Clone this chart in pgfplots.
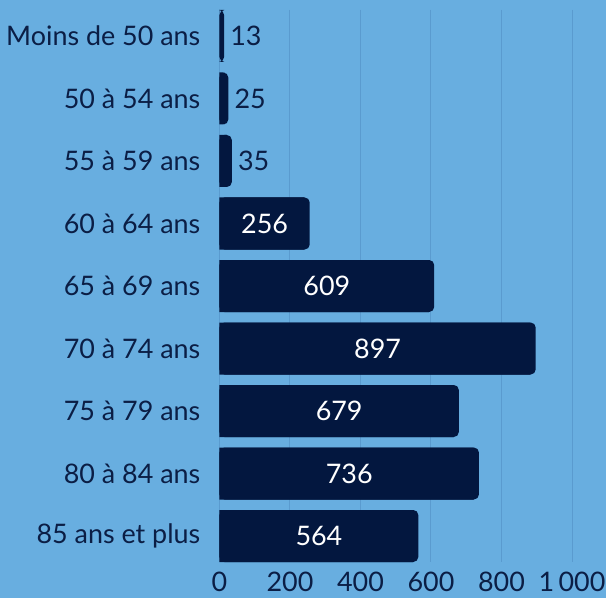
\documentclass[border=0pt]{standalone}
\usepackage{pgfplots}
\usepackage{pgfplotstable}
\pgfplotsset{compat=1.18}
\usepackage{fontspec}
\setmainfont{Lato}
\definecolor{bg}{HTML}{68AEE0}
\definecolor{navy}{HTML}{03173F}
\definecolor{gridc}{HTML}{5A9BCF}
\definecolor{txt}{HTML}{0B1E45}
\pgfplotstableread{
y v
0 13
1 25
2 35
3 256
4 609
5 897
6 679
7 736
8 564
}\agedata
\pgfplotstableread{
y v
0 13
1 25
2 35
}\smalldata
\pgfplotstableread{
y v
3 256
4 609
5 897
6 679
7 736
8 564
}\bigdata
\begin{document}
\begin{tikzpicture}
\fill[bg] (-219.5bp,-36bp) rectangle (386.5bp,562bp);
\begin{axis}[
  at={(0,0)}, anchor=south west,
  scale only axis, width=352.5bp, height=552bp,
  xmin=0, xmax=1000, ymin=-0.416, ymax=8.416, y dir=reverse,
  axis line style={draw=none},
  major tick length=0pt,
  xtick={0,200,400,600,800,1000},
  xticklabels={0,200,400,600,800,1\,000},
  ytick={0,...,8},
  yticklabels={Moins de 50 ans,50 à 54 ans,55 à 59 ans,60 à 64 ans,65 à 69 ans,70 à 74 ans,75 à 79 ans,80 à 84 ans,85 ans et plus},
  xmajorgrids, major grid style={gridc, line width=1bp},
  tick label style={font=\fontsize{27}{30}\selectfont, text=txt},
  yticklabel style={inner sep=0pt, xshift=-19bp},
  xticklabel style={inner sep=0pt, yshift=-10bp},
  /pgf/number format/assume math mode=true,
  clip=false,
]
\addplot[xbar, bar width=0.832, fill=navy, draw=none, rounded corners=5bp] table[x=v,y=y] {\agedata};
\addplot[xbar, bar width=0.832, fill=navy, draw=none] table[x expr={max(\thisrow{v}-15,0)},y=y] {\agedata};
\addplot[draw=none, mark=none, nodes near coords, point meta=explicit symbolic,
  every node near coord/.append style={anchor=west, inner sep=0pt, xshift=6bp, text=txt, font=\fontsize{27}{30}\selectfont}]
  table[x=v, y=y, meta=v] {\smalldata};
\addplot[draw=none, mark=none, nodes near coords, point meta=explicit symbolic,
  every node near coord/.append style={anchor=center, text=white, font=\fontsize{27}{30}\selectfont}]
  table[x expr=\thisrow{v}/2, y=y, meta=v] {\bigdata};
\end{axis}
\end{tikzpicture}
\end{document}
